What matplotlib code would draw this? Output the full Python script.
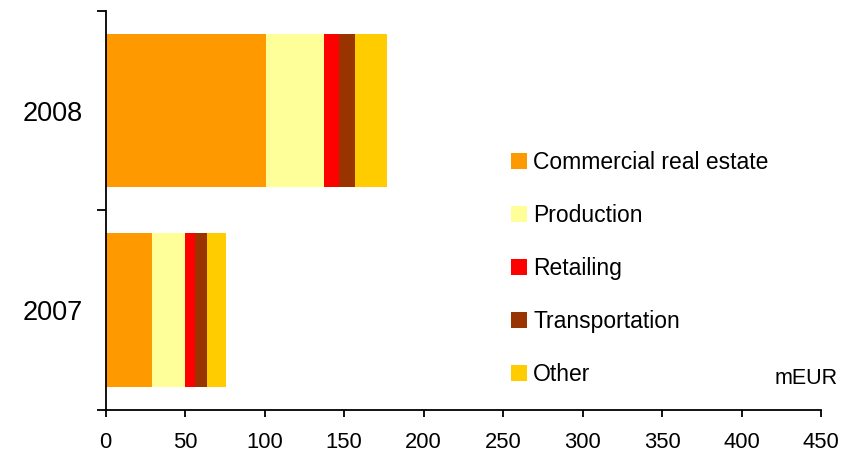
import matplotlib
matplotlib.use("Agg")
import matplotlib.pyplot as plt
from matplotlib.patches import Patch
import numpy as np

plt.rcParams['font.family'] = ['Liberation Sans', 'DejaVu Sans']

years = ["2007", "2008"]
series_names = ["Commercial real estate", "Production", "Retailing", "Transportation", "Other"]
commercial = [29, 101]
production = [21, 36]
retailing = [6, 10]
transportation = [7.5, 10]
other = [12, 20]
colors = ["#FF9900", "#FFFF99", "#FF0000", "#993300", "#FFCC00"]
x_ticks = [0, 50, 100, 150, 200, 250, 300, 350, 400, 450]
unit_label = "mEUR"

series = [commercial, production, retailing, transportation, other]

fig = plt.figure(figsize=(8.52, 4.51), dpi=100)
ax = fig.add_axes([105.7/852, 1-410/451, (821.3-105.7)/852, (410-10.7)/451])

ypos = np.arange(len(years))
left = np.zeros(len(years))
for vals, name, c in zip(series, series_names, colors):
    ax.barh(ypos, vals, left=left, height=0.77, color=c, label=name, linewidth=0)
    left = left + np.array(vals)

ax.set_xlim(0, 450)
ax.set_ylim(-0.5, 1.5)
ax.set_xticks(x_ticks)
ax.set_xticklabels([str(t) for t in x_ticks], fontsize=15.8)
ax.set_yticks(ypos)
ax.set_yticklabels(years, fontsize=19.5)
ax.set_yticks([-0.5, 0.5, 1.5], minor=True)
ax.tick_params(axis='y', which='major', length=0, pad=16.5)
ax.tick_params(axis='y', which='minor', length=6.5, width=1.3, direction='out')
ax.tick_params(axis='x', which='major', length=5, width=1.3, direction='out', pad=10.5)
for s in ['top', 'right']:
    ax.spines[s].set_visible(False)
for s in ['left', 'bottom']:
    ax.spines[s].set_linewidth(1.3)
    ax.spines[s].set_color('black')

handles = [Patch(facecolor=c, edgecolor='none') for c in colors]
fig.legend(handles, series_names, loc='upper left',
           bbox_to_anchor=(511/852, 1-151/451), frameon=False,
           fontsize=16.5, handlelength=0.7, handleheight=0.7,
           handletextpad=0.26, labelspacing=1.31, borderpad=0, borderaxespad=0)

fig.text(838/852, 1-378/451, unit_label, fontsize=15.5, ha='right', va='center')

fig.savefig("out.png", dpi=100)
